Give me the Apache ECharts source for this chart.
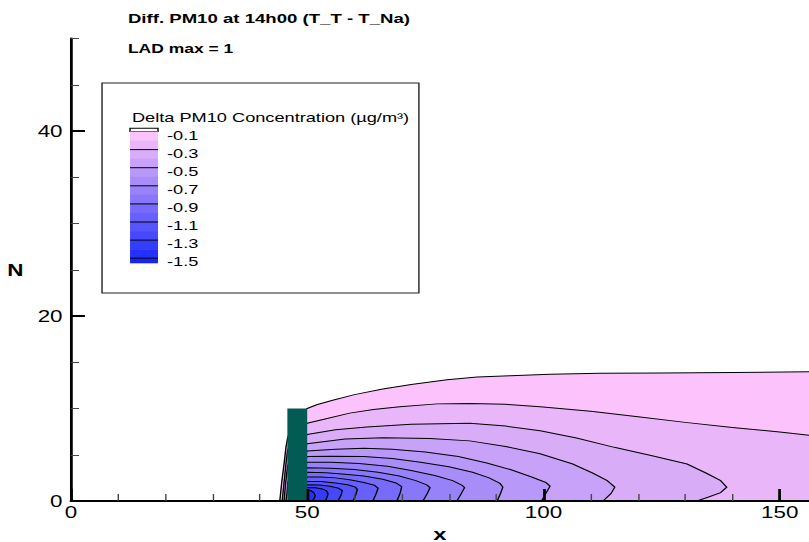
<!DOCTYPE html>
<html>
<head>
<meta charset="utf-8">
<script src="https://cdn.jsdelivr.net/npm/echarts@6.0.0/dist/echarts.min.js"></script>
<style>
  html, body { margin: 0; padding: 0; background: #fff; overflow: hidden; width: 809px; height: 542px; }
  /* the plot is laid out on a narrower canvas and widened, like the original plotter page */
  #chart { width: 578px; height: 542px; transform: scaleX(1.39965); transform-origin: 0 0; }
</style>
</head>
<body>
<div id="chart"></div>
<script>
// ---- axis ticks ----
const xMajorTicks = [0, 50, 100, 150];
const xMinorTicks = [10, 20, 30, 40, 60, 70, 80, 90, 110, 120, 130, 140];
const yMajorTicks = [0, 20, 40];
const yMinorTicks = [5, 10, 15, 25, 30, 35, 45, 50];

// ---- contour levels (µg/m³) and legend labels ----
const levels = [-0.1, -0.2, -0.3, -0.4, -0.5, -0.6, -0.7, -0.8, -0.9, -1.0, -1.1, -1.2, -1.3, -1.4];
const legendLabels = ['-0.1', '-0.3', '-0.5', '-0.7', '-0.9', '-1.1', '-1.3', '-1.5'];

// ---- building block (x extent, height) ----
const buildingX = [45.8, 50.0];
const buildingHeight = [10];

// ---- iso-lines of the concentration difference, [x, N] ----
const c01 = [[44.2,0],[44.6,2],[45.1,4],[45.5,5.8],[45.85,6.8],[47.5,9],[50,10],[52,10.4],[55.4,10.9],[60,11.5],[66,12.1],[72,12.6],[79.6,13.1],[86,13.4],[93,13.55],[101.4,13.7],[112,13.8],[125,13.85],[140,13.9],[162,14]];
const c02 = [[44.7,0],[45.1,2],[45.5,4],[45.85,5.5],[48,7.5],[50,8.4],[54,8.9],[59,9.5],[64,9.9],[69.6,10.2],[77.5,10.5],[84.4,10.55],[92,10.45],[99.3,10.2],[110,9.7],[120,9.1],[130,8.5],[140,7.95],[150,7.45],[156.2,7.1],[162,6.8]];
const c03 = [[45.1,0],[45.45,2],[45.85,3.8],[48,6],[50,7.2],[56,7.7],[62.6,8.0],[72,8.3],[84.4,8.4],[92,8.1],[99.3,7.6],[107,6.8],[115,5.8],[123,4.9],[130.4,4.0],[134.5,3.0],[137.5,2.2],[138.8,1.5],[137.5,0.9],[134.8,0.4],[132.5,0]];
const c04 = [[45.5,0],[45.75,1],[45.9,2],[48,5],[50,6.2],[58,6.7],[66,6.85],[76,6.75],[84.4,6.5],[92,5.9],[99.3,5.1],[106.2,4.0],[110.5,3.0],[113.5,2.2],[115.1,1.5],[114.3,0.8],[112.6,0]];
const c05 = [[46.2,0],[48,3.5],[50,5.4],[56,5.6],[62,5.7],[68,5.6],[75,5.3],[82,4.8],[88,4.1],[93,3.4],[97.5,2.6],[100.5,2.0],[101.4,1.6],[100.6,0.9],[99.6,0]];
const c06 = [[46.4,0],[48,3],[50,4.8],[55,4.85],[62,4.8],[68,4.6],[74,4.2],[80,3.7],[85,3.1],[88.5,2.5],[90.8,1.9],[91.4,1.5],[90.9,0.8],[90.2,0]];
const c07 = [[46.6,0],[48,2.5],[50,4.2],[55,4.2],[61,4.05],[67,3.75],[72,3.3],[77,2.75],[80.8,2.2],[82.8,1.7],[83.3,1.45],[82.6,0.8],[81.7,0]];
const c08 = [[46.8,0],[48,2],[50,3.6],[55,3.55],[60,3.4],[65,3.1],[69.5,2.7],[73,2.2],[75.3,1.75],[76,1.45],[75.4,0.8],[74.5,0]];
const c09 = [[47,0],[48.5,2],[50,3.1],[54,3.05],[58,2.9],[62,2.7],[66,2.35],[68.8,1.95],[70,1.55],[69.7,0.9],[69,0]];
const c10 = [[47.2,0],[48.5,1.8],[50,2.6],[53,2.6],[56,2.5],[59,2.3],[62,2.0],[64.2,1.7],[65,1.4],[64.6,0.8],[63.9,0]];
const c11 = [[47.4,0],[48.5,1.5],[50,2.1],[53,2.1],[56,1.95],[58.6,1.75],[60.2,1.5],[60.6,1.25],[60.3,0.7],[59.7,0]];
const c12 = [[47.6,0],[48.5,1.2],[50,1.75],[52.5,1.72],[54.8,1.6],[56.5,1.4],[57.4,1.15],[57.2,0.65],[56.5,0]];
const c13 = [[47.8,0],[49,1],[50,1.45],[51.8,1.42],[53.2,1.3],[54.1,1.1],[54.4,0.8],[54.2,0.4],[53.8,0]];
const c14 = [[48,0],[49,0.8],[50,1.15],[50.8,1.1],[51.4,0.9],[51.7,0.6],[51.5,0.3],[51,0]];
const contours = [c01, c02, c03, c04, c05, c06, c07, c08, c09, c10, c11, c12, c13, c14];

// ---- flood colours, one per band below each level ----
const bandColors = ['#fbc2fb', '#e9b6f9', '#d9acf8', '#c8a2f8', '#b898f8', '#a88df9', '#9882fa',
                    '#8877fb', '#786bfb', '#6760fc', '#5654fc', '#4548fd', '#343cfe', '#2430fe', '#1424ff'];

const FONT = '"Liberation Sans", Arial, Helvetica, sans-serif';

function closedRing(pts) {
  const ring = pts.slice();
  const last = ring[ring.length - 1];
  if (last[1] !== 0) ring.push([last[0], 0]);
  const first = ring[0];
  if (first[1] !== 0) ring.unshift([first[0], 0]);
  return ring;
}

function buildLegend() {
  const els = [];
  els.push({ type: 'rect', z: 20, shape: { x: 72.9, y: 83, width: 226.4, height: 210 },
             style: { fill: '#fff', stroke: '#222', lineWidth: 1 } });
  els.push({ type: 'text', z: 21, x: 94.3, y: 117.5,
             style: { text: 'Delta PM10 Concentration (µg/m³)', font: '13px ' + FONT, fill: '#000', verticalAlign: 'middle' } });
  const bx = 92.9, bw = 20, top = 131.5, step = 9.05, bottom = 263;
  els.push({ type: 'rect', z: 21, shape: { x: bx, y: 128.3, width: bw, height: top - 128.3 },
             style: { fill: '#fff', stroke: '#000', lineWidth: 1 } });
  bandColors.forEach((c, k) => {
    const y0 = top + step * k;
    const h = Math.min(step, bottom - y0);
    els.push({ type: 'rect', z: 21, shape: { x: bx, y: y0, width: bw, height: h + 0.3 }, style: { fill: c } });
  });
  for (let k = 2; k <= 14; k += 2) {
    const y = top + step * k;
    els.push({ type: 'line', z: 22, shape: { x1: bx, y1: y, x2: bx + bw, y2: y }, style: { stroke: '#000', lineWidth: 1 } });
  }
  legendLabels.forEach((t, i) => {
    els.push({ type: 'text', z: 22, x: 119.3, y: 135.3 + 18.06 * i,
               style: { text: t, font: '13px ' + FONT, fill: '#000', verticalAlign: 'middle' } });
  });
  els.push({ type: 'text', z: 22, x: 91.4, y: 18.5,
             style: { text: 'Diff. PM10 at 14h00 (T_T - T_Na)', font: 'bold 13.3px ' + FONT, fill: '#000', verticalAlign: 'middle' } });
  els.push({ type: 'text', z: 22, x: 91.4, y: 48,
             style: { text: 'LAD max = 1', font: 'bold 12.5px ' + FONT, fill: '#000', verticalAlign: 'middle' } });
  return els;
}

const chart = echarts.init(document.getElementById('chart'), null, { renderer: 'svg' });

const baseX = { type: 'value', min: 0, max: 156.2, position: 'bottom', z: 10, splitLine: { show: false } };
const baseY = { type: 'value', min: 0, max: 50, position: 'left', z: 10, splitLine: { show: false } };

chart.setOption({
  animation: false,
  backgroundColor: '#fff',
  grid: { left: 50.7, right: 0, top: 38.5, bottom: 41, containLabel: false, outerBoundsMode: 'none' },
  xAxis: [
    Object.assign({}, baseX, {
      axisLine: { lineStyle: { color: '#000', width: 2 } },
      axisTick: { inside: true, length: 12, customValues: xMajorTicks, lineStyle: { color: '#000', width: 2 } },
      axisLabel: { customValues: xMajorTicks, color: '#000', fontSize: 16, fontFamily: FONT, margin: 3 },
      name: 'x', nameLocation: 'middle', nameGap: 29,
      nameTextStyle: { color: '#000', fontSize: 17, lineHeight: 16, verticalAlign: 'middle', fontWeight: 'bold', fontFamily: FONT }
    }),
    Object.assign({}, baseX, {
      axisLine: { show: false },
      axisTick: { inside: true, length: 7, customValues: xMinorTicks, lineStyle: { color: '#444', width: 1 } },
      axisLabel: { show: false }
    })
  ],
  yAxis: [
    Object.assign({}, baseY, {
      axisLine: { lineStyle: { color: '#000', width: 2 } },
      axisTick: { inside: true, length: 10, customValues: yMajorTicks, lineStyle: { color: '#000', width: 2 } },
      axisLabel: { customValues: yMajorTicks, color: '#000', fontSize: 16, fontFamily: FONT, margin: 6 },
      name: 'N', nameLocation: 'middle', nameGap: 34, nameRotate: 0,
      nameTextStyle: { color: '#000', fontSize: 16, fontWeight: 'bold', fontFamily: FONT }
    }),
    Object.assign({}, baseY, {
      axisLine: { show: false },
      axisTick: { inside: true, length: 5.8, customValues: yMinorTicks, lineStyle: { color: '#444', width: 1 } },
      axisLabel: { show: false }
    })
  ],
  graphic: buildLegend(),
  series: [
    {
      type: 'custom', name: 'flood', clip: true, z: 2,
      data: contours.map((c, i) => [i, 0]),
      renderItem: (params, api) => {
        const i = params.dataIndex;
        return { type: 'polygon', shape: { points: closedRing(contours[i]).map(p => api.coord(p)) },
                 style: { fill: bandColors[i], stroke: null } };
      }
    },
    {
      type: 'custom', name: 'lines', clip: true, z: 3,
      data: contours.map((c, i) => [i, 0]),
      renderItem: (params, api) => {
        const i = params.dataIndex;
        return { type: 'polyline', shape: { points: contours[i].map(p => api.coord(p)) },
                 style: { fill: null, stroke: '#000', lineWidth: 1 } };
      }
    },
    {
      type: 'custom', name: 'building', clip: true, z: 4,
      data: [[buildingX[0], buildingHeight[0]]],
      renderItem: (params, api) => {
        const a = api.coord([buildingX[0], buildingHeight[0]]);
        const b = api.coord([buildingX[1], 0]);
        return { type: 'rect', shape: { x: a[0], y: a[1], width: b[0] - a[0], height: b[1] - a[1] },
                 style: { fill: '#035b56' } };
      }
    }
  ]
});
</script>
</body>
</html>
